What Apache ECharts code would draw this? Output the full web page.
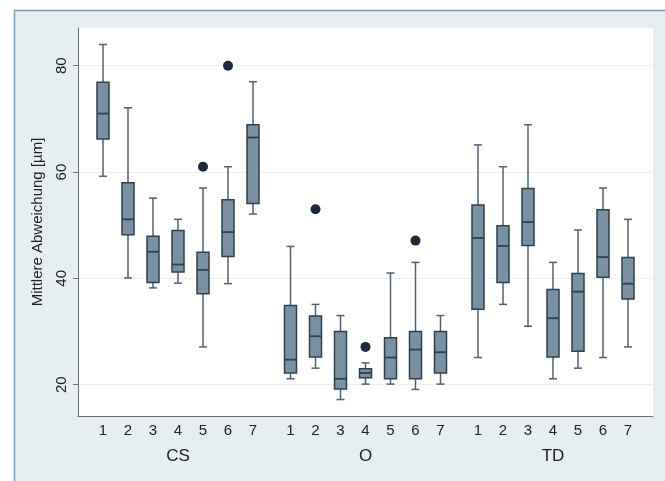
<!DOCTYPE html>
<html>
<head>
<meta charset="utf-8">
<script src="https://cdn.jsdelivr.net/npm/echarts@6/dist/echarts.min.js"></script>
<style>
html,body{margin:0;padding:0;background:#ffffff;}
#chart{width:665px;height:481px;}
</style>
</head>
<body>
<div id="chart"></div>
<script>
// ---- data ----
var groups = ['CS', 'O', 'TD'];
var itemLabels = ['1', '2', '3', '4', '5', '6', '7'];
var yTicks = [20, 40, 60, 80];
var yTitle = 'Mittlere Abweichung [µm]';

// each row: [min, Q1, median, Q3, max]
var boxesCS = [
  [59.2, 66.2, 71.0, 76.9, 84.0],
  [40.1, 48.2, 51.1, 58.0, 72.1],
  [38.2, 39.2, 45.0, 47.9, 55.1],
  [39.1, 41.2, 42.6, 49.0, 51.1],
  [27.1, 37.1, 41.6, 44.9, 57.0],
  [39.0, 44.1, 48.7, 54.8, 61.0],
  [52.1, 54.1, 66.5, 68.9, 77.0]
];
var boxesO = [
  [21.1, 22.2, 24.7, 34.9, 46.0],
  [23.1, 25.2, 29.1, 32.9, 35.1],
  [17.2, 19.2, 21.1, 30.0, 33.0],
  [20.1, 21.3, 22.2, 23.0, 24.1],
  [20.1, 21.1, 25.1, 28.8, 41.0],
  [19.1, 21.1, 26.6, 30.0, 43.0],
  [20.1, 22.2, 26.1, 30.0, 33.0]
];
var boxesTD = [
  [25.1, 34.2, 47.6, 53.8, 65.1],
  [35.1, 39.2, 46.1, 49.9, 61.0],
  [31.0, 46.2, 50.6, 56.9, 68.9],
  [21.1, 25.2, 32.5, 37.9, 43.0],
  [23.1, 26.3, 37.5, 40.9, 49.1],
  [25.1, 40.2, 44.0, 52.9, 57.0],
  [27.1, 36.1, 39.0, 43.9, 51.1]
];
var outlierGroup = ['CS', 'CS', 'O', 'O', 'O'];
var outlierItem = ['5', '6', '2', '4', '6'];
var outlierValue = [61.0, 80.0, 53.0, 27.1, 47.1];

// ---- layout helpers (x position on value axis) ----
var groupBoxes = [boxesCS, boxesO, boxesTD];
var GROUP_STEP = 7.5;
function xPos(g, i) { return g * GROUP_STEP + i; }

var boxData = [];
groupBoxes.forEach(function (rows, g) {
  rows.forEach(function (r, i) {
    boxData.push([xPos(g, i)].concat(r));
  });
});
var outlierData = outlierValue.map(function (v, k) {
  return [xPos(groups.indexOf(outlierGroup[k]), itemLabels.indexOf(outlierItem[k])), v];
});

var itemTickValues = [];
var itemTickText = {};
groups.forEach(function (gname, g) {
  itemLabels.forEach(function (lab, i) {
    var p = xPos(g, i);
    itemTickValues.push(p);
    itemTickText[p] = lab;
  });
});
var groupTickValues = groups.map(function (gname, g) { return xPos(g, 3); });
var groupTickText = {};
groups.forEach(function (gname, g) { groupTickText[xPos(g, 3)] = gname; });

var FILL = '#7a91a2';
var EDGE = '#2f4050';
var WHISK = '#4e6272';

var chart = echarts.init(document.getElementById('chart'), null, {renderer: 'canvas'});
chart.setOption({
  animation: false,
  backgroundColor: '#ffffff',
  textStyle: {fontFamily: 'Liberation Sans, Arial, sans-serif'},
  graphic: [{
    type: 'rect',
    z: -10,
    silent: true,
    shape: {x: 14.5, y: 10.5, width: 700, height: 520},
    style: {fill: '#e6eef1', stroke: '#6aa1cf', lineWidth: 1.5}
  }],
  grid: {
    left: 78, top: 28, right: 12, bottom: 65,
    show: true, backgroundColor: '#ffffff', borderWidth: 0
  },
  xAxis: [{
    type: 'value',
    min: -1, max: 22,
    axisLine: {show: true, onZero: false, lineStyle: {color: '#707070', width: 1}},
    axisTick: {show: false},
    splitLine: {show: false},
    axisLabel: {
      customValues: itemTickValues,
      formatter: function (v) { return itemTickText[v] !== undefined ? itemTickText[v] : ''; },
      fontSize: 15, color: '#222222', margin: 7
    }
  }, {
    type: 'value',
    min: -1, max: 22,
    position: 'bottom',
    axisLine: {show: false, onZero: false},
    axisTick: {show: false},
    splitLine: {show: false},
    axisLabel: {
      customValues: groupTickValues,
      formatter: function (v) { return groupTickText[v] !== undefined ? groupTickText[v] : ''; },
      fontSize: 17, color: '#222222', margin: 32
    }
  }],
  yAxis: {
    type: 'value',
    min: 14.1, max: 87.1,
    name: yTitle,
    nameLocation: 'middle',
    nameGap: 33,
    nameTextStyle: {fontSize: 15, color: '#222222'},
    axisLine: {show: true, onZero: false, lineStyle: {color: '#707070', width: 1}},
    axisTick: {show: true, customValues: yTicks, length: 5, lineStyle: {color: '#707070'}},
    axisLabel: {customValues: yTicks, rotate: 90, fontSize: 15, color: '#222222', margin: 9},
    splitLine: {show: true, lineStyle: {color: '#eaf0f2', width: 1.2}}
  },
  series: [{
    type: 'custom',
    xAxisIndex: 0,
    encode: {x: 0, y: [1, 2, 3, 4, 5]},
    data: boxData,
    renderItem: function (params, api) {
      var x = api.value(0);
      var pMin = api.coord([x, api.value(1)]);
      var pQ1 = api.coord([x, api.value(2)]);
      var pMed = api.coord([x, api.value(3)]);
      var pQ3 = api.coord([x, api.value(4)]);
      var pMax = api.coord([x, api.value(5)]);
      var cx = pMin[0];
      var bw = 12, cw = 8;
      return {
        type: 'group',
        children: [
          {type: 'line', shape: {x1: cx, y1: pMax[1], x2: cx, y2: pQ3[1]}, style: {stroke: WHISK, lineWidth: 1.5}},
          {type: 'line', shape: {x1: cx, y1: pQ1[1], x2: cx, y2: pMin[1]}, style: {stroke: WHISK, lineWidth: 1.5}},
          {type: 'line', shape: {x1: cx - cw / 2, y1: pMax[1], x2: cx + cw / 2, y2: pMax[1]}, style: {stroke: WHISK, lineWidth: 1.5}},
          {type: 'line', shape: {x1: cx - cw / 2, y1: pMin[1], x2: cx + cw / 2, y2: pMin[1]}, style: {stroke: WHISK, lineWidth: 1.5}},
          {type: 'rect', shape: {x: cx - bw / 2, y: pQ3[1], width: bw, height: pQ1[1] - pQ3[1]}, style: {fill: FILL, stroke: EDGE, lineWidth: 1.5}},
          {type: 'line', shape: {x1: cx - bw / 2, y1: pMed[1], x2: cx + bw / 2, y2: pMed[1]}, style: {stroke: EDGE, lineWidth: 1.8}}
        ]
      };
    }
  }, {
    type: 'scatter',
    xAxisIndex: 0,
    data: outlierData,
    symbol: 'circle',
    symbolSize: 10,
    itemStyle: {color: '#1b2a3b', opacity: 1}
  }]
});
</script>
</body>
</html>
